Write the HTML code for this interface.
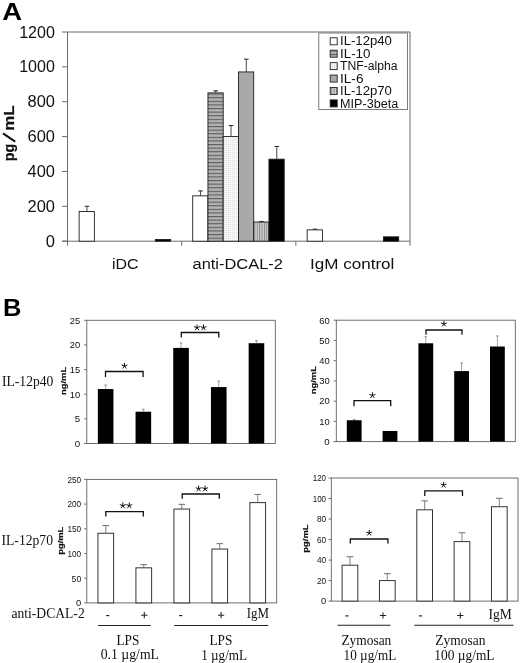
<!DOCTYPE html><html><head><meta charset="utf-8"><title>Figure</title><style>html,body{margin:0;padding:0;background:#fff}svg{display:block;filter:blur(0.3px)}</style></head><body>
<svg width="520" height="663" viewBox="0 0 520 663">
<defs>
<pattern id="ph" width="4" height="3.6" patternUnits="userSpaceOnUse"><rect width="4" height="3.6" fill="#b2b2b2"/><rect y="0" width="4" height="1.1" fill="#5c5c5c"/></pattern>
<pattern id="pv" width="2.4" height="4" patternUnits="userSpaceOnUse"><rect width="2.4" height="4" fill="#cacaca"/><rect x="0" width="0.9" height="4" fill="#8a8a8a"/></pattern>
<pattern id="pd" width="2" height="2" patternUnits="userSpaceOnUse"><rect width="2" height="2" fill="#f6f6f6"/><rect width="1" height="1" fill="#dedede"/></pattern>
</defs>
<rect width="520" height="663" fill="#fff"/>
<text x="2.2" y="19.5" font-family='"Liberation Sans", sans-serif' font-size="23.2" font-weight="bold" text-anchor="start" fill="#000" textLength="19.8" lengthAdjust="spacingAndGlyphs">A</text>
<line x1="67.5" y1="32" x2="410" y2="32" stroke="#6a6a6a" stroke-width="1"/>
<line x1="410" y1="32" x2="410" y2="245.7" stroke="#6a6a6a" stroke-width="1"/>
<line x1="67.5" y1="32" x2="67.5" y2="245.7" stroke="#6a6a6a" stroke-width="1"/>
<line x1="62.0" y1="241.2" x2="410" y2="241.2" stroke="#6a6a6a" stroke-width="1"/>
<line x1="62.0" y1="32.0" x2="67.5" y2="32.0" stroke="#6a6a6a" stroke-width="1"/>
<text x="54.9" y="37.6" font-family='"Liberation Sans", sans-serif' font-size="16" font-weight="normal" text-anchor="end" fill="#111" textLength="35.7" lengthAdjust="spacingAndGlyphs">1200</text>
<line x1="62.0" y1="66.86666666666667" x2="67.5" y2="66.86666666666667" stroke="#6a6a6a" stroke-width="1"/>
<text x="54.9" y="72.46666666666667" font-family='"Liberation Sans", sans-serif' font-size="16" font-weight="normal" text-anchor="end" fill="#111" textLength="35.7" lengthAdjust="spacingAndGlyphs">1000</text>
<line x1="62.0" y1="101.73333333333333" x2="67.5" y2="101.73333333333333" stroke="#6a6a6a" stroke-width="1"/>
<text x="54.9" y="107.33333333333333" font-family='"Liberation Sans", sans-serif' font-size="16" font-weight="normal" text-anchor="end" fill="#111" textLength="27.4" lengthAdjust="spacingAndGlyphs">800</text>
<line x1="62.0" y1="136.59999999999997" x2="67.5" y2="136.59999999999997" stroke="#6a6a6a" stroke-width="1"/>
<text x="54.9" y="142.19999999999996" font-family='"Liberation Sans", sans-serif' font-size="16" font-weight="normal" text-anchor="end" fill="#111" textLength="27.4" lengthAdjust="spacingAndGlyphs">600</text>
<line x1="62.0" y1="171.46666666666667" x2="67.5" y2="171.46666666666667" stroke="#6a6a6a" stroke-width="1"/>
<text x="54.9" y="177.06666666666666" font-family='"Liberation Sans", sans-serif' font-size="16" font-weight="normal" text-anchor="end" fill="#111" textLength="27.4" lengthAdjust="spacingAndGlyphs">400</text>
<line x1="62.0" y1="206.33333333333334" x2="67.5" y2="206.33333333333334" stroke="#6a6a6a" stroke-width="1"/>
<text x="54.9" y="211.93333333333334" font-family='"Liberation Sans", sans-serif' font-size="16" font-weight="normal" text-anchor="end" fill="#111" textLength="27.4" lengthAdjust="spacingAndGlyphs">200</text>
<line x1="62.0" y1="241.19999999999996" x2="67.5" y2="241.19999999999996" stroke="#6a6a6a" stroke-width="1"/>
<text x="54.9" y="246.79999999999995" font-family='"Liberation Sans", sans-serif' font-size="16" font-weight="normal" text-anchor="end" fill="#111" textLength="9.2" lengthAdjust="spacingAndGlyphs">0</text>
<line x1="181.66666666666669" y1="241.2" x2="181.66666666666669" y2="245.7" stroke="#6a6a6a" stroke-width="1"/>
<line x1="295.83333333333337" y1="241.2" x2="295.83333333333337" y2="245.7" stroke="#6a6a6a" stroke-width="1"/>
<text transform="translate(14.4,161.3) rotate(-90)" font-family='"Liberation Sans", sans-serif' font-size="15.4" font-weight="bold" fill="#111" stroke="#111" stroke-width="0.25" textLength="17.5" lengthAdjust="spacingAndGlyphs">pg</text>
<text transform="translate(14.4,130.8) rotate(-90)" font-family='"Liberation Sans", sans-serif' font-size="15.4" font-weight="bold" fill="#111" stroke="#111" stroke-width="0.25" textLength="25.5" lengthAdjust="spacingAndGlyphs">mL</text>
<line x1="15.2" y1="141.6" x2="3.0" y2="133.3" stroke="#111" stroke-width="2.1"/>
<rect x="79.13" y="211.53" width="15.25" height="29.66" fill="#fff" stroke="#1c1c1c" stroke-width="0.9"/>
<line x1="86.95833333333334" y1="206.3" x2="86.95833333333334" y2="211.535" stroke="#2a2a2a" stroke-width="0.85"/>
<line x1="84.65833333333335" y1="206.3" x2="89.25833333333334" y2="206.3" stroke="#2a2a2a" stroke-width="1.05"/>
<rect x="155.38" y="239.45" width="15.25" height="1.75" fill="#000" stroke="#1c1c1c" stroke-width="0.9"/>
<rect x="192.70" y="195.83" width="15.25" height="45.37" fill="#fff" stroke="#1c1c1c" stroke-width="0.9"/>
<line x1="200.525" y1="190.944" x2="200.525" y2="195.82999999999998" stroke="#2a2a2a" stroke-width="0.85"/>
<line x1="198.225" y1="190.944" x2="202.82500000000002" y2="190.944" stroke="#2a2a2a" stroke-width="1.05"/>
<rect x="207.95" y="92.88" width="15.25" height="148.32" fill="url(#ph)" stroke="#1c1c1c" stroke-width="0.9"/>
<line x1="215.775" y1="90.781" x2="215.775" y2="92.875" stroke="#2a2a2a" stroke-width="0.85"/>
<line x1="213.475" y1="90.781" x2="218.07500000000002" y2="90.781" stroke="#2a2a2a" stroke-width="1.05"/>
<rect x="223.20" y="136.50" width="15.25" height="104.70" fill="url(#pd)" stroke="#1c1c1c" stroke-width="0.9"/>
<line x1="231.025" y1="125.5065" x2="231.025" y2="136.5" stroke="#2a2a2a" stroke-width="0.85"/>
<line x1="228.725" y1="125.5065" x2="233.32500000000002" y2="125.5065" stroke="#2a2a2a" stroke-width="1.05"/>
<rect x="238.45" y="71.94" width="15.25" height="169.26" fill="#a9a9a9" stroke="#1c1c1c" stroke-width="0.9"/>
<line x1="246.275" y1="59.1965" x2="246.275" y2="71.935" stroke="#2a2a2a" stroke-width="0.85"/>
<line x1="243.975" y1="59.1965" x2="248.57500000000002" y2="59.1965" stroke="#2a2a2a" stroke-width="1.05"/>
<rect x="253.70" y="222.00" width="15.25" height="19.19" fill="url(#pv)" stroke="#1c1c1c" stroke-width="0.9"/>
<line x1="261.52500000000003" y1="221.48149999999998" x2="261.52500000000003" y2="222.005" stroke="#2a2a2a" stroke-width="0.85"/>
<line x1="259.225" y1="221.48149999999998" x2="263.82500000000005" y2="221.48149999999998" stroke="#2a2a2a" stroke-width="1.05"/>
<rect x="268.95" y="159.19" width="15.25" height="82.01" fill="#000" stroke="#1c1c1c" stroke-width="0.9"/>
<line x1="276.77500000000003" y1="146.44650000000001" x2="276.77500000000003" y2="159.185" stroke="#2a2a2a" stroke-width="0.85"/>
<line x1="274.475" y1="146.44650000000001" x2="279.07500000000005" y2="146.44650000000001" stroke="#2a2a2a" stroke-width="1.05"/>
<rect x="307.17" y="229.86" width="15.25" height="11.34" fill="#fff" stroke="#1c1c1c" stroke-width="0.9"/>
<line x1="314.9916666666667" y1="229.15949999999998" x2="314.9916666666667" y2="229.8575" stroke="#2a2a2a" stroke-width="0.85"/>
<line x1="312.69166666666666" y1="229.15949999999998" x2="317.2916666666667" y2="229.15949999999998" stroke="#2a2a2a" stroke-width="1.05"/>
<rect x="383.42" y="236.84" width="15.25" height="4.36" fill="#000" stroke="#1c1c1c" stroke-width="0.9"/>
<text x="125.2" y="268.5" font-family='"Liberation Sans", sans-serif' font-size="15.2" font-weight="normal" text-anchor="middle" fill="#111" textLength="26.6" lengthAdjust="spacingAndGlyphs">iDC</text>
<text x="237.7" y="268.6" font-family='"Liberation Sans", sans-serif' font-size="15.2" font-weight="normal" text-anchor="middle" fill="#111" textLength="90.4" lengthAdjust="spacingAndGlyphs">anti-DCAL-2</text>
<text x="352.2" y="268.6" font-family='"Liberation Sans", sans-serif' font-size="15.2" font-weight="normal" text-anchor="middle" fill="#111" textLength="84.4" lengthAdjust="spacingAndGlyphs">IgM control</text>
<rect x="318.75" y="33.00" width="88.75" height="76.50" fill="#fff" stroke="#7c7c7c" stroke-width="1"/>
<rect x="330.20" y="37.80" width="7.00" height="7.00" fill="#fff" stroke="#222" stroke-width="0.9"/>
<text x="340.0" y="45.400000000000006" font-family='"Liberation Sans", sans-serif' font-size="12" font-weight="normal" text-anchor="start" fill="#111" textLength="51.9" lengthAdjust="spacingAndGlyphs">IL-12p40</text>
<rect x="330.20" y="50.22" width="7.00" height="7.00" fill="url(#ph)" stroke="#222" stroke-width="0.9"/>
<text x="340.0" y="57.82000000000001" font-family='"Liberation Sans", sans-serif' font-size="12" font-weight="normal" text-anchor="start" fill="#111" textLength="30.5" lengthAdjust="spacingAndGlyphs">IL-10</text>
<rect x="330.20" y="62.64" width="7.00" height="7.00" fill="url(#pd)" stroke="#222" stroke-width="0.9"/>
<text x="340.0" y="70.24000000000001" font-family='"Liberation Sans", sans-serif' font-size="12" font-weight="normal" text-anchor="start" fill="#111" textLength="57.5" lengthAdjust="spacingAndGlyphs">TNF-alpha</text>
<rect x="330.20" y="75.06" width="7.00" height="7.00" fill="#a9a9a9" stroke="#222" stroke-width="0.9"/>
<text x="340.0" y="82.66000000000001" font-family='"Liberation Sans", sans-serif' font-size="12" font-weight="normal" text-anchor="start" fill="#111" textLength="23.5" lengthAdjust="spacingAndGlyphs">IL-6</text>
<rect x="330.20" y="87.48" width="7.00" height="7.00" fill="url(#pv)" stroke="#222" stroke-width="0.9"/>
<text x="340.0" y="95.08" font-family='"Liberation Sans", sans-serif' font-size="12" font-weight="normal" text-anchor="start" fill="#111" textLength="51.9" lengthAdjust="spacingAndGlyphs">IL-12p70</text>
<rect x="330.20" y="99.90" width="7.00" height="7.00" fill="#000" stroke="#222" stroke-width="0.9"/>
<text x="340.0" y="107.50000000000001" font-family='"Liberation Sans", sans-serif' font-size="12" font-weight="normal" text-anchor="start" fill="#111" textLength="58.199999999999996" lengthAdjust="spacingAndGlyphs">MIP-3beta</text>
<text x="3.0" y="315.9" font-family='"Liberation Sans", sans-serif' font-size="24.4" font-weight="bold" text-anchor="start" fill="#000" textLength="18.4" lengthAdjust="spacingAndGlyphs">B</text>
<rect x="86.80" y="320.30" width="188.50" height="123.20" fill="#fff" stroke="#606060" stroke-width="0.9"/>
<line x1="84.1" y1="443.5" x2="86.8" y2="443.5" stroke="#606060" stroke-width="0.9"/>
<text x="80.2" y="446.8" font-family='"Liberation Sans", sans-serif' font-size="9.3" font-weight="normal" text-anchor="end" fill="#111" textLength="5.4" lengthAdjust="spacingAndGlyphs">0</text>
<line x1="84.1" y1="418.86" x2="86.8" y2="418.86" stroke="#606060" stroke-width="0.9"/>
<text x="80.2" y="422.16" font-family='"Liberation Sans", sans-serif' font-size="9.3" font-weight="normal" text-anchor="end" fill="#111" textLength="5.4" lengthAdjust="spacingAndGlyphs">5</text>
<line x1="84.1" y1="394.22" x2="86.8" y2="394.22" stroke="#606060" stroke-width="0.9"/>
<text x="80.2" y="397.52000000000004" font-family='"Liberation Sans", sans-serif' font-size="9.3" font-weight="normal" text-anchor="end" fill="#111" textLength="10.4" lengthAdjust="spacingAndGlyphs">10</text>
<line x1="84.1" y1="369.58000000000004" x2="86.8" y2="369.58000000000004" stroke="#606060" stroke-width="0.9"/>
<text x="80.2" y="372.88000000000005" font-family='"Liberation Sans", sans-serif' font-size="9.3" font-weight="normal" text-anchor="end" fill="#111" textLength="10.4" lengthAdjust="spacingAndGlyphs">15</text>
<line x1="84.1" y1="344.94" x2="86.8" y2="344.94" stroke="#606060" stroke-width="0.9"/>
<text x="80.2" y="348.24" font-family='"Liberation Sans", sans-serif' font-size="9.3" font-weight="normal" text-anchor="end" fill="#111" textLength="10.4" lengthAdjust="spacingAndGlyphs">20</text>
<line x1="84.1" y1="320.3" x2="86.8" y2="320.3" stroke="#606060" stroke-width="0.9"/>
<text x="80.2" y="323.6" font-family='"Liberation Sans", sans-serif' font-size="9.3" font-weight="normal" text-anchor="end" fill="#111" textLength="10.4" lengthAdjust="spacingAndGlyphs">25</text>
<line x1="105.65" y1="385.10319999999996" x2="105.65" y2="389.0456" stroke="#8a8a8a" stroke-width="0.8"/>
<line x1="104.35000000000001" y1="385.10319999999996" x2="106.95" y2="385.10319999999996" stroke="#8a8a8a" stroke-width="1.0"/>
<rect x="97.85" y="389.05" width="15.60" height="54.45" fill="#000" stroke="none" stroke-width="1"/>
<line x1="143.35" y1="409.2504" x2="143.35" y2="411.7144" stroke="#8a8a8a" stroke-width="0.8"/>
<line x1="142.04999999999998" y1="409.2504" x2="144.65" y2="409.2504" stroke="#8a8a8a" stroke-width="1.0"/>
<rect x="135.55" y="411.71" width="15.60" height="31.79" fill="#000" stroke="none" stroke-width="1"/>
<line x1="181.05" y1="342.9688" x2="181.05" y2="347.8968" stroke="#8a8a8a" stroke-width="0.8"/>
<line x1="179.75" y1="342.9688" x2="182.35000000000002" y2="342.9688" stroke="#8a8a8a" stroke-width="1.0"/>
<rect x="173.25" y="347.90" width="15.60" height="95.60" fill="#000" stroke="none" stroke-width="1"/>
<line x1="218.75" y1="381.16080000000005" x2="218.75" y2="387.0744" stroke="#8a8a8a" stroke-width="0.8"/>
<line x1="217.45" y1="381.16080000000005" x2="220.05" y2="381.16080000000005" stroke="#8a8a8a" stroke-width="1.0"/>
<rect x="210.95" y="387.07" width="15.60" height="56.43" fill="#000" stroke="none" stroke-width="1"/>
<line x1="256.45" y1="340.7512" x2="256.45" y2="343.2152" stroke="#8a8a8a" stroke-width="0.8"/>
<line x1="255.14999999999998" y1="340.7512" x2="257.75" y2="340.7512" stroke="#8a8a8a" stroke-width="1.0"/>
<rect x="248.65" y="343.22" width="15.60" height="100.28" fill="#000" stroke="none" stroke-width="1"/>
<text transform="translate(65.9,380.9) rotate(-90)" font-family='"Liberation Sans", sans-serif' font-size="7.7" font-weight="bold" text-anchor="middle" fill="#111" stroke="#111" stroke-width="0.2" textLength="28.2" lengthAdjust="spacingAndGlyphs">ng/mL</text>
<path d="M105.5,376.9V371.5H143.1V376.9" fill="none" stroke="#111" stroke-width="1.3"/>
<path d="M124.50,366.00L124.50,362.90M124.50,366.00L127.45,365.04M124.50,366.00L126.32,368.51M124.50,366.00L122.68,368.51M124.50,366.00L121.55,365.04" stroke="#111" stroke-width="1.0" fill="none" stroke-linecap="butt"/>
<path d="M181.3,337.5V332.5H218.8V337.5" fill="none" stroke="#111" stroke-width="1.3"/>
<path d="M197.00,327.60L197.00,324.50M197.00,327.60L199.95,326.64M197.00,327.60L198.82,330.11M197.00,327.60L195.18,330.11M197.00,327.60L194.05,326.64" stroke="#111" stroke-width="1.0" fill="none" stroke-linecap="butt"/>
<path d="M203.50,327.60L203.50,324.50M203.50,327.60L206.45,326.64M203.50,327.60L205.32,330.11M203.50,327.60L201.68,330.11M203.50,327.60L200.55,326.64" stroke="#111" stroke-width="1.0" fill="none" stroke-linecap="butt"/>
<rect x="336.30" y="320.20" width="179.00" height="121.40" fill="#fff" stroke="#606060" stroke-width="0.9"/>
<line x1="333.6" y1="441.6" x2="336.3" y2="441.6" stroke="#606060" stroke-width="0.9"/>
<text x="329.7" y="444.90000000000003" font-family='"Liberation Sans", sans-serif' font-size="9.3" font-weight="normal" text-anchor="end" fill="#111" textLength="5.4" lengthAdjust="spacingAndGlyphs">0</text>
<line x1="333.6" y1="421.3666666666667" x2="336.3" y2="421.3666666666667" stroke="#606060" stroke-width="0.9"/>
<text x="329.7" y="424.6666666666667" font-family='"Liberation Sans", sans-serif' font-size="9.3" font-weight="normal" text-anchor="end" fill="#111" textLength="10.4" lengthAdjust="spacingAndGlyphs">10</text>
<line x1="333.6" y1="401.1333333333333" x2="336.3" y2="401.1333333333333" stroke="#606060" stroke-width="0.9"/>
<text x="329.7" y="404.43333333333334" font-family='"Liberation Sans", sans-serif' font-size="9.3" font-weight="normal" text-anchor="end" fill="#111" textLength="10.4" lengthAdjust="spacingAndGlyphs">20</text>
<line x1="333.6" y1="380.9" x2="336.3" y2="380.9" stroke="#606060" stroke-width="0.9"/>
<text x="329.7" y="384.2" font-family='"Liberation Sans", sans-serif' font-size="9.3" font-weight="normal" text-anchor="end" fill="#111" textLength="10.4" lengthAdjust="spacingAndGlyphs">30</text>
<line x1="333.6" y1="360.6666666666667" x2="336.3" y2="360.6666666666667" stroke="#606060" stroke-width="0.9"/>
<text x="329.7" y="363.9666666666667" font-family='"Liberation Sans", sans-serif' font-size="9.3" font-weight="normal" text-anchor="end" fill="#111" textLength="10.4" lengthAdjust="spacingAndGlyphs">40</text>
<line x1="333.6" y1="340.43333333333334" x2="336.3" y2="340.43333333333334" stroke="#606060" stroke-width="0.9"/>
<text x="329.7" y="343.73333333333335" font-family='"Liberation Sans", sans-serif' font-size="9.3" font-weight="normal" text-anchor="end" fill="#111" textLength="10.4" lengthAdjust="spacingAndGlyphs">50</text>
<line x1="333.6" y1="320.2" x2="336.3" y2="320.2" stroke="#606060" stroke-width="0.9"/>
<text x="329.7" y="323.5" font-family='"Liberation Sans", sans-serif' font-size="9.3" font-weight="normal" text-anchor="end" fill="#111" textLength="10.4" lengthAdjust="spacingAndGlyphs">60</text>
<line x1="354.2" y1="419.64683333333335" x2="354.2" y2="420.2538333333334" stroke="#8a8a8a" stroke-width="0.8"/>
<line x1="352.9" y1="419.64683333333335" x2="355.5" y2="419.64683333333335" stroke="#8a8a8a" stroke-width="1.0"/>
<rect x="346.80" y="420.25" width="14.80" height="21.35" fill="#000" stroke="none" stroke-width="1"/>
<rect x="382.60" y="430.98" width="14.80" height="10.62" fill="#000" stroke="none" stroke-width="1"/>
<line x1="425.79999999999995" y1="336.7913333333333" x2="425.79999999999995" y2="343.26599999999996" stroke="#8a8a8a" stroke-width="0.8"/>
<line x1="424.49999999999994" y1="336.7913333333333" x2="427.09999999999997" y2="336.7913333333333" stroke="#8a8a8a" stroke-width="1.0"/>
<rect x="418.40" y="343.27" width="14.80" height="98.33" fill="#000" stroke="none" stroke-width="1"/>
<line x1="461.59999999999997" y1="362.9935" x2="461.59999999999997" y2="371.08683333333335" stroke="#8a8a8a" stroke-width="0.8"/>
<line x1="460.29999999999995" y1="362.9935" x2="462.9" y2="362.9935" stroke="#8a8a8a" stroke-width="1.0"/>
<rect x="454.20" y="371.09" width="14.80" height="70.51" fill="#000" stroke="none" stroke-width="1"/>
<line x1="497.4" y1="335.98199999999997" x2="497.4" y2="346.50333333333333" stroke="#8a8a8a" stroke-width="0.8"/>
<line x1="496.09999999999997" y1="335.98199999999997" x2="498.7" y2="335.98199999999997" stroke="#8a8a8a" stroke-width="1.0"/>
<rect x="490.00" y="346.50" width="14.80" height="95.10" fill="#000" stroke="none" stroke-width="1"/>
<text transform="translate(315.7,380.19999999999993) rotate(-90)" font-family='"Liberation Sans", sans-serif' font-size="7.7" font-weight="bold" text-anchor="middle" fill="#111" stroke="#111" stroke-width="0.2" textLength="28.2" lengthAdjust="spacingAndGlyphs">ng/mL</text>
<path d="M354,406.2V400.7H390.7V406.2" fill="none" stroke="#111" stroke-width="1.3"/>
<path d="M372.40,395.40L372.40,392.30M372.40,395.40L375.35,394.44M372.40,395.40L374.22,397.91M372.40,395.40L370.58,397.91M372.40,395.40L369.45,394.44" stroke="#111" stroke-width="1.0" fill="none" stroke-linecap="butt"/>
<path d="M426.0,334.8V330.0H462.0V334.8" fill="none" stroke="#111" stroke-width="1.3"/>
<path d="M443.90,323.90L443.90,320.80M443.90,323.90L446.85,322.94M443.90,323.90L445.72,326.41M443.90,323.90L442.08,326.41M443.90,323.90L440.95,322.94" stroke="#111" stroke-width="1.0" fill="none" stroke-linecap="butt"/>
<rect x="86.80" y="479.40" width="189.90" height="123.50" fill="#fff" stroke="#606060" stroke-width="0.9"/>
<line x1="84.1" y1="602.9" x2="86.8" y2="602.9" stroke="#606060" stroke-width="0.9"/>
<text x="81.2" y="606.1999999999999" font-family='"Liberation Sans", sans-serif' font-size="9.0" font-weight="normal" text-anchor="end" fill="#111" textLength="5.2" lengthAdjust="spacingAndGlyphs">0</text>
<line x1="84.1" y1="578.1999999999999" x2="86.8" y2="578.1999999999999" stroke="#606060" stroke-width="0.9"/>
<text x="81.2" y="581.4999999999999" font-family='"Liberation Sans", sans-serif' font-size="9.0" font-weight="normal" text-anchor="end" fill="#111" textLength="9.6" lengthAdjust="spacingAndGlyphs">50</text>
<line x1="84.1" y1="553.5" x2="86.8" y2="553.5" stroke="#606060" stroke-width="0.9"/>
<text x="81.2" y="556.8" font-family='"Liberation Sans", sans-serif' font-size="9.0" font-weight="normal" text-anchor="end" fill="#111" textLength="13.7" lengthAdjust="spacingAndGlyphs">100</text>
<line x1="84.1" y1="528.8" x2="86.8" y2="528.8" stroke="#606060" stroke-width="0.9"/>
<text x="81.2" y="532.0999999999999" font-family='"Liberation Sans", sans-serif' font-size="9.0" font-weight="normal" text-anchor="end" fill="#111" textLength="13.7" lengthAdjust="spacingAndGlyphs">150</text>
<line x1="84.1" y1="504.09999999999997" x2="86.8" y2="504.09999999999997" stroke="#606060" stroke-width="0.9"/>
<text x="81.2" y="507.4" font-family='"Liberation Sans", sans-serif' font-size="9.0" font-weight="normal" text-anchor="end" fill="#111" textLength="13.7" lengthAdjust="spacingAndGlyphs">200</text>
<line x1="84.1" y1="479.4" x2="86.8" y2="479.4" stroke="#606060" stroke-width="0.9"/>
<text x="81.2" y="482.7" font-family='"Liberation Sans", sans-serif' font-size="9.0" font-weight="normal" text-anchor="end" fill="#111" textLength="13.7" lengthAdjust="spacingAndGlyphs">250</text>
<line x1="105.78999999999999" y1="525.5889999999999" x2="105.78999999999999" y2="533.246" stroke="#777" stroke-width="0.9"/>
<line x1="102.53999999999999" y1="525.5889999999999" x2="109.03999999999999" y2="525.5889999999999" stroke="#777" stroke-width="1.1"/>
<rect x="97.94" y="533.25" width="15.70" height="69.65" fill="#fff" stroke="#333" stroke-width="1"/>
<line x1="143.76999999999998" y1="564.615" x2="143.76999999999998" y2="567.826" stroke="#777" stroke-width="0.9"/>
<line x1="140.51999999999998" y1="564.615" x2="147.01999999999998" y2="564.615" stroke="#777" stroke-width="1.1"/>
<rect x="135.92" y="567.83" width="15.70" height="35.07" fill="#fff" stroke="#333" stroke-width="1"/>
<line x1="181.75" y1="504.347" x2="181.75" y2="509.03999999999996" stroke="#777" stroke-width="0.9"/>
<line x1="178.5" y1="504.347" x2="185.0" y2="504.347" stroke="#777" stroke-width="1.1"/>
<rect x="173.90" y="509.04" width="15.70" height="93.86" fill="#fff" stroke="#333" stroke-width="1"/>
<line x1="219.72999999999996" y1="543.62" x2="219.72999999999996" y2="549.054" stroke="#777" stroke-width="0.9"/>
<line x1="216.47999999999996" y1="543.62" x2="222.97999999999996" y2="543.62" stroke="#777" stroke-width="1.1"/>
<rect x="211.88" y="549.05" width="15.70" height="53.85" fill="#fff" stroke="#333" stroke-width="1"/>
<line x1="257.71" y1="494.467" x2="257.71" y2="502.618" stroke="#777" stroke-width="0.9"/>
<line x1="254.45999999999998" y1="494.467" x2="260.96" y2="494.467" stroke="#777" stroke-width="1.1"/>
<rect x="249.86" y="502.62" width="15.70" height="100.28" fill="#fff" stroke="#333" stroke-width="1"/>
<text transform="translate(63.1,540.75) rotate(-90)" font-family='"Liberation Sans", sans-serif' font-size="7.7" font-weight="bold" text-anchor="middle" fill="#111" stroke="#111" stroke-width="0.2" textLength="28.2" lengthAdjust="spacingAndGlyphs">pg/mL</text>
<path d="M105.8,516.4V511.6H143.3V516.4" fill="none" stroke="#111" stroke-width="1.3"/>
<path d="M122.80,505.60L122.80,502.50M122.80,505.60L125.75,504.64M122.80,505.60L124.62,508.11M122.80,505.60L120.98,508.11M122.80,505.60L119.85,504.64" stroke="#111" stroke-width="1.0" fill="none" stroke-linecap="butt"/>
<path d="M129.30,505.60L129.30,502.50M129.30,505.60L132.25,504.64M129.30,505.60L131.12,508.11M129.30,505.60L127.48,508.11M129.30,505.60L126.35,504.64" stroke="#111" stroke-width="1.0" fill="none" stroke-linecap="butt"/>
<path d="M182.2,498.8V494.0H219.3V498.8" fill="none" stroke="#111" stroke-width="1.3"/>
<path d="M198.60,488.70L198.60,485.60M198.60,488.70L201.55,487.74M198.60,488.70L200.42,491.21M198.60,488.70L196.78,491.21M198.60,488.70L195.65,487.74" stroke="#111" stroke-width="1.0" fill="none" stroke-linecap="butt"/>
<path d="M205.10,488.70L205.10,485.60M205.10,488.70L208.05,487.74M205.10,488.70L206.92,491.21M205.10,488.70L203.28,491.21M205.10,488.70L202.15,487.74" stroke="#111" stroke-width="1.0" fill="none" stroke-linecap="butt"/>
<rect x="331.30" y="478.00" width="186.70" height="123.10" fill="#fff" stroke="#606060" stroke-width="0.9"/>
<line x1="328.6" y1="601.1" x2="331.3" y2="601.1" stroke="#606060" stroke-width="0.9"/>
<text x="326.1" y="604.4" font-family='"Liberation Sans", sans-serif' font-size="9.0" font-weight="normal" text-anchor="end" fill="#111" textLength="5.2" lengthAdjust="spacingAndGlyphs">0</text>
<line x1="328.6" y1="580.5833333333334" x2="331.3" y2="580.5833333333334" stroke="#606060" stroke-width="0.9"/>
<text x="326.1" y="583.8833333333333" font-family='"Liberation Sans", sans-serif' font-size="9.0" font-weight="normal" text-anchor="end" fill="#111" textLength="9.2" lengthAdjust="spacingAndGlyphs">20</text>
<line x1="328.6" y1="560.0666666666667" x2="331.3" y2="560.0666666666667" stroke="#606060" stroke-width="0.9"/>
<text x="326.1" y="563.3666666666667" font-family='"Liberation Sans", sans-serif' font-size="9.0" font-weight="normal" text-anchor="end" fill="#111" textLength="9.2" lengthAdjust="spacingAndGlyphs">40</text>
<line x1="328.6" y1="539.55" x2="331.3" y2="539.55" stroke="#606060" stroke-width="0.9"/>
<text x="326.1" y="542.8499999999999" font-family='"Liberation Sans", sans-serif' font-size="9.0" font-weight="normal" text-anchor="end" fill="#111" textLength="9.2" lengthAdjust="spacingAndGlyphs">60</text>
<line x1="328.6" y1="519.0333333333333" x2="331.3" y2="519.0333333333333" stroke="#606060" stroke-width="0.9"/>
<text x="326.1" y="522.3333333333333" font-family='"Liberation Sans", sans-serif' font-size="9.0" font-weight="normal" text-anchor="end" fill="#111" textLength="9.2" lengthAdjust="spacingAndGlyphs">80</text>
<line x1="328.6" y1="498.51666666666665" x2="331.3" y2="498.51666666666665" stroke="#606060" stroke-width="0.9"/>
<text x="326.1" y="501.81666666666666" font-family='"Liberation Sans", sans-serif' font-size="9.0" font-weight="normal" text-anchor="end" fill="#111" textLength="13.4" lengthAdjust="spacingAndGlyphs">100</text>
<line x1="328.6" y1="478.0" x2="331.3" y2="478.0" stroke="#606060" stroke-width="0.9"/>
<text x="326.1" y="481.3" font-family='"Liberation Sans", sans-serif' font-size="9.0" font-weight="normal" text-anchor="end" fill="#111" textLength="13.4" lengthAdjust="spacingAndGlyphs">120</text>
<line x1="349.97" y1="556.6814166666667" x2="349.97" y2="565.1958333333333" stroke="#777" stroke-width="0.9"/>
<line x1="346.72" y1="556.6814166666667" x2="353.22" y2="556.6814166666667" stroke="#777" stroke-width="1.1"/>
<rect x="342.12" y="565.20" width="15.70" height="35.90" fill="#fff" stroke="#333" stroke-width="1"/>
<line x1="387.31" y1="573.6076666666667" x2="387.31" y2="580.5833333333334" stroke="#777" stroke-width="0.9"/>
<line x1="384.06" y1="573.6076666666667" x2="390.56" y2="573.6076666666667" stroke="#777" stroke-width="1.1"/>
<rect x="379.46" y="580.58" width="15.70" height="20.52" fill="#fff" stroke="#333" stroke-width="1"/>
<line x1="424.65" y1="500.8760833333333" x2="424.65" y2="509.80083333333334" stroke="#777" stroke-width="0.9"/>
<line x1="421.4" y1="500.8760833333333" x2="427.9" y2="500.8760833333333" stroke="#777" stroke-width="1.1"/>
<rect x="416.80" y="509.80" width="15.70" height="91.30" fill="#fff" stroke="#333" stroke-width="1"/>
<line x1="461.99" y1="532.7795" x2="461.99" y2="541.6016666666667" stroke="#777" stroke-width="0.9"/>
<line x1="458.74" y1="532.7795" x2="465.24" y2="532.7795" stroke="#777" stroke-width="1.1"/>
<rect x="454.14" y="541.60" width="15.70" height="59.50" fill="#fff" stroke="#333" stroke-width="1"/>
<line x1="499.33" y1="498.3115" x2="499.33" y2="506.72333333333336" stroke="#777" stroke-width="0.9"/>
<line x1="496.08" y1="498.3115" x2="502.58" y2="498.3115" stroke="#777" stroke-width="1.1"/>
<rect x="491.48" y="506.72" width="15.70" height="94.38" fill="#fff" stroke="#333" stroke-width="1"/>
<text transform="translate(308.3,538.55) rotate(-90)" font-family='"Liberation Sans", sans-serif' font-size="7.7" font-weight="bold" text-anchor="middle" fill="#111" stroke="#111" stroke-width="0.2" textLength="28.2" lengthAdjust="spacingAndGlyphs">pg/mL</text>
<path d="M350.3,543.6V539.0H387.9V543.6" fill="none" stroke="#111" stroke-width="1.3"/>
<path d="M369.20,533.00L369.20,529.90M369.20,533.00L372.15,532.04M369.20,533.00L371.02,535.51M369.20,533.00L367.38,535.51M369.20,533.00L366.25,532.04" stroke="#111" stroke-width="1.0" fill="none" stroke-linecap="butt"/>
<path d="M424.8,496.0V490.8H462.5V496.0" fill="none" stroke="#111" stroke-width="1.3"/>
<path d="M443.60,485.00L443.60,481.90M443.60,485.00L446.55,484.04M443.60,485.00L445.42,487.51M443.60,485.00L441.78,487.51M443.60,485.00L440.65,484.04" stroke="#111" stroke-width="1.0" fill="none" stroke-linecap="butt"/>
<text x="2" y="385.7" font-family='"Liberation Serif", serif' font-size="13.7" font-weight="normal" text-anchor="start" fill="#111" textLength="51.3" lengthAdjust="spacingAndGlyphs">IL-12p40</text>
<text x="1.5" y="545.4" font-family='"Liberation Serif", serif' font-size="13.7" font-weight="normal" text-anchor="start" fill="#111" textLength="51.5" lengthAdjust="spacingAndGlyphs">IL-12p70</text>
<text x="11.4" y="618.4" font-family='"Liberation Serif", serif' font-size="13.7" font-weight="normal" text-anchor="start" fill="#111" textLength="73.3" lengthAdjust="spacingAndGlyphs">anti-DCAL-2</text>
<line x1="106.10000000000001" y1="615.6" x2="109.3" y2="615.6" stroke="#222" stroke-width="1.15"/>
<line x1="141.20000000000002" y1="615.2" x2="147.4" y2="615.2" stroke="#222" stroke-width="1.05"/>
<line x1="144.3" y1="612.1" x2="144.3" y2="618.3000000000001" stroke="#222" stroke-width="1.05"/>
<line x1="179.1" y1="615.6" x2="182.29999999999998" y2="615.6" stroke="#222" stroke-width="1.15"/>
<line x1="218.0" y1="615.2" x2="224.2" y2="615.2" stroke="#222" stroke-width="1.05"/>
<line x1="221.1" y1="612.1" x2="221.1" y2="618.3000000000001" stroke="#222" stroke-width="1.05"/>
<text x="246.8" y="618.3" font-family='"Liberation Serif", serif' font-size="13.7" font-weight="normal" text-anchor="start" fill="#111" textLength="22.2" lengthAdjust="spacingAndGlyphs">IgM</text>
<line x1="345.29999999999995" y1="615.9" x2="348.5" y2="615.9" stroke="#222" stroke-width="1.15"/>
<line x1="379.9" y1="615.5" x2="386.1" y2="615.5" stroke="#222" stroke-width="1.05"/>
<line x1="383.0" y1="612.4" x2="383.0" y2="618.6" stroke="#222" stroke-width="1.05"/>
<line x1="418.9" y1="615.9" x2="422.1" y2="615.9" stroke="#222" stroke-width="1.15"/>
<line x1="457.2" y1="615.5" x2="463.40000000000003" y2="615.5" stroke="#222" stroke-width="1.05"/>
<line x1="460.3" y1="612.4" x2="460.3" y2="618.6" stroke="#222" stroke-width="1.05"/>
<text x="488.6" y="618.6" font-family='"Liberation Serif", serif' font-size="13.7" font-weight="normal" text-anchor="start" fill="#111" textLength="23.3" lengthAdjust="spacingAndGlyphs">IgM</text>
<line x1="98" y1="625.5" x2="150.8" y2="625.5" stroke="#222" stroke-width="1.1"/>
<line x1="174.2" y1="625.5" x2="268.4" y2="625.5" stroke="#222" stroke-width="1.1"/>
<line x1="337.6" y1="625.3" x2="390.4" y2="625.3" stroke="#222" stroke-width="1.1"/>
<line x1="414.3" y1="625.3" x2="513.5" y2="625.3" stroke="#222" stroke-width="1.1"/>
<text x="116.5" y="644.6" font-family='"Liberation Serif", serif' font-size="13.7" font-weight="normal" text-anchor="start" fill="#111" textLength="22.8" lengthAdjust="spacingAndGlyphs">LPS</text>
<text x="100.7" y="659.4" font-family='"Liberation Serif", serif' font-size="13.7" font-weight="normal" text-anchor="start" fill="#111" textLength="58.3" lengthAdjust="spacingAndGlyphs">0.1 µg/mL</text>
<text x="209.5" y="644.8" font-family='"Liberation Serif", serif' font-size="13.7" font-weight="normal" text-anchor="start" fill="#111" textLength="22.9" lengthAdjust="spacingAndGlyphs">LPS</text>
<text x="201.2" y="659.5" font-family='"Liberation Serif", serif' font-size="13.7" font-weight="normal" text-anchor="start" fill="#111" textLength="45.8" lengthAdjust="spacingAndGlyphs">1 µg/mL</text>
<text x="341.4" y="644.6" font-family='"Liberation Serif", serif' font-size="13.7" font-weight="normal" text-anchor="start" fill="#111" textLength="49.9" lengthAdjust="spacingAndGlyphs">Zymosan</text>
<text x="343.6" y="659.6" font-family='"Liberation Serif", serif' font-size="13.7" font-weight="normal" text-anchor="start" fill="#111" textLength="52.7" lengthAdjust="spacingAndGlyphs">10 µg/mL</text>
<text x="435.3" y="645" font-family='"Liberation Serif", serif' font-size="13.7" font-weight="normal" text-anchor="start" fill="#111" textLength="50.1" lengthAdjust="spacingAndGlyphs">Zymosan</text>
<text x="434.2" y="659.5" font-family='"Liberation Serif", serif' font-size="13.7" font-weight="normal" text-anchor="start" fill="#111" textLength="60.4" lengthAdjust="spacingAndGlyphs">100 µg/mL</text>
</svg></body></html>
